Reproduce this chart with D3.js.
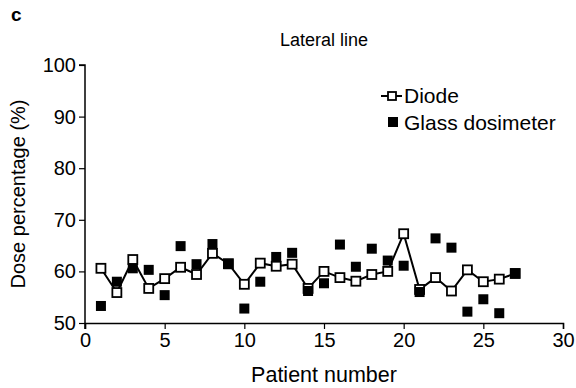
<html>
<head>
<script src="https://d3js.org/d3.v7.min.js"></script>
<style>
body { margin: 0; background: #fff; }
svg { font-family: "Liberation Sans", Arial, sans-serif; }
</style>
</head>
<body>
<svg width="576" height="388"></svg>
<script>
  var patients = d3.range(1, 28);
  var diode = [60.6, 55.9, 62.3, 56.7, 58.6, 60.8, 59.4, 63.5, 61.5, 57.5, 61.6, 61.0, 61.4, 56.7,
               60.0, 58.8, 58.1, 59.4, 60.0, 67.3, 56.5, 58.8, 56.2, 60.3, 58.0, 58.5, 59.6];
  var glass = [53.3, 58.0, 60.6, 60.3, 55.4, 64.9, 61.4, 65.3, 61.4, 52.8, 58.0, 62.8, 63.6, 56.2,
               57.7, 65.2, 60.9, 64.4, 62.1, 61.1, 56.0, 66.4, 64.6, 52.2, 54.6, 51.9, 59.6];
  var xTicks = [0, 5, 10, 15, 20, 25, 30];
  var yTicks = [50, 60, 70, 80, 90, 100];

  var svg = d3.select("svg");
  var x = d3.scaleLinear().domain([0, 30]).range([85, 563]);
  var y = d3.scaleLinear().domain([50, 100]).range([323, 65]);

  var xAxis = svg.append("g")
    .attr("transform", "translate(0,323)")
    .call(d3.axisBottom(x).tickValues(xTicks).tickSize(6).tickPadding(4));
  var yAxis = svg.append("g")
    .attr("transform", "translate(85,0)")
    .call(d3.axisLeft(y).tickValues(yTicks).tickSize(6).tickPadding(3));

  [xAxis, yAxis].forEach(function(a){
    a.select(".domain").attr("stroke", "#000").attr("stroke-width", 1.5);
    a.selectAll(".tick line").attr("stroke", "#000").attr("stroke-width", 1.2);
    a.selectAll("text").attr("font-size", 20).attr("fill", "#000")
      .attr("font-family", "Liberation Sans, Arial, sans-serif");
  });
  // y axis runs a little below the x axis, like the original "+"
  yAxis.select(".domain").attr("d", "M0,329V65H-6");

  // diode line
  var line = d3.line().x(function(d, i){ return x(patients[i]); }).y(function(d){ return y(d); });
  svg.append("path").datum(diode)
    .attr("d", line).attr("fill", "none").attr("stroke", "#000").attr("stroke-width", 2);

  var s = 9, g = 10;
  svg.append("g").selectAll("rect").data(diode).enter().append("rect")
    .attr("x", function(d, i){ return x(patients[i]) - s/2; })
    .attr("y", function(d){ return y(d) - s/2; })
    .attr("width", s).attr("height", s)
    .attr("fill", "#fff").attr("stroke", "#000").attr("stroke-width", 1.8);

  svg.append("g").selectAll("rect").data(glass).enter().append("rect")
    .attr("x", function(d, i){ return x(patients[i]) - g/2; })
    .attr("y", function(d){ return y(d) - g/2; })
    .attr("width", g).attr("height", g)
    .attr("fill", "#000");

  // legend
  var lg = svg.append("g");
  lg.append("line").attr("x1", 381).attr("x2", 402).attr("y1", 96).attr("y2", 96)
    .attr("stroke", "#000").attr("stroke-width", 2);
  lg.append("rect").attr("x", 388).attr("y", 92).attr("width", 8).attr("height", 8)
    .attr("fill", "#fff").attr("stroke", "#000").attr("stroke-width", 1.8);
  lg.append("text").attr("x", 404).attr("y", 103).attr("font-size", 21).text("Diode");
  lg.append("rect").attr("x", 388).attr("y", 117).attr("width", 10).attr("height", 10)
    .attr("fill", "#000");
  lg.append("text").attr("x", 404).attr("y", 130).attr("font-size", 21).text("Glass dosimeter");

  // titles
  svg.append("text").attr("x", 11).attr("y", 21).attr("font-size", 19)
    .attr("font-weight", "bold").text("c");
  svg.append("text").attr("x", 324).attr("y", 46).attr("text-anchor", "middle")
    .attr("font-size", 18).text("Lateral line");
  svg.append("text").attr("x", 324).attr("y", 382).attr("text-anchor", "middle")
    .attr("font-size", 21.5).text("Patient number");
  svg.append("text").attr("transform", "translate(25,194) rotate(-90)")
    .attr("text-anchor", "middle").attr("font-size", 20).text("Dose percentage (%)");
</script>
</body>
</html>
